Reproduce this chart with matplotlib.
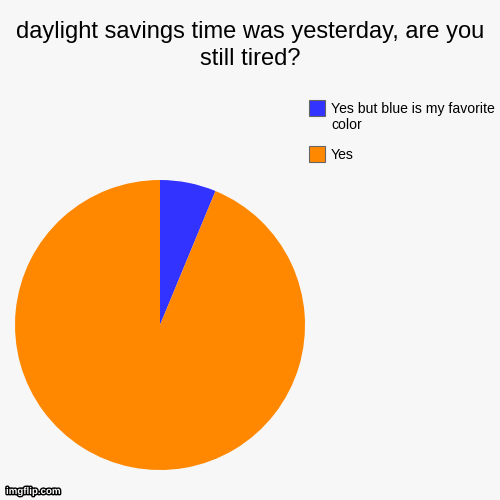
import matplotlib.pyplot as plt
import matplotlib.patheffects as pe
from matplotlib.patches import Rectangle

plt.rcParams['font.family'] = ['Liberation Sans', 'DejaVu Sans']

labels = ['Yes but blue is my favorite\ncolor', 'Yes']
values = [1, 15]
colors = ['#3333ff', '#ff8800']
title_lines = ['daylight savings time was yesterday, are you', 'still tired?']

W = H = 500
fig = plt.figure(figsize=(5, 5), dpi=100, facecolor='#f7f7f7')
ax = fig.add_axes([0.03, 0.06, 0.58, 0.58])
ax.pie(values, colors=colors, startangle=90, counterclock=False,
       wedgeprops={'linewidth': 0})
ax.set_xlim(-1, 1)
ax.set_ylim(-1, 1)
ax.set_aspect('equal')

# title baselines at 38px and 65px from the top
for j, part in enumerate(title_lines):
    fig.text(0.5, 1 - (38 + j * 27) / H, part, ha='center', va='baseline', fontsize=17)

# legend, laid out by hand so the swatch sits on the first line
y0 = 100      # top of first swatch, px
gap = 46      # swatch to swatch, px
line = 16     # wrapped line step, px
for i, (lab, c) in enumerate(zip(labels, colors)):
    top = y0 + i * gap
    fig.patches.append(Rectangle((309 / W, 1 - (top + 16) / H), 16 / W, 16 / H,
                                 transform=fig.transFigure, facecolor=c,
                                 edgecolor='#666666', linewidth=0.8))
    for j, part in enumerate(lab.split('\n')):
        fig.text(331 / W, 1 - (top + 13 + j * line) / H, part, fontsize=10.1,
                 va='baseline', ha='left')

fig.text(0.012, 0.012, 'imgflip.com', fontsize=7, color='white', fontweight='bold',
         path_effects=[pe.withStroke(linewidth=2, foreground='black')])

fig.savefig('out.png', dpi=100, facecolor=fig.get_facecolor())
